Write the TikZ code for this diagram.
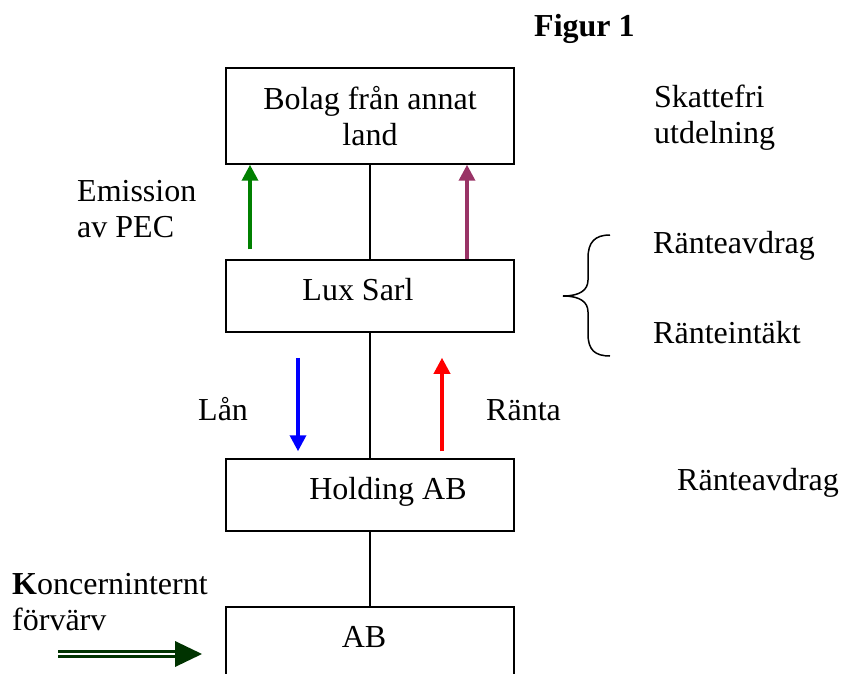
\documentclass[tikz,border=0pt]{standalone}
\usepackage{fontspec}
\setmainfont{Liberation Serif}
\usetikzlibrary{arrows.meta}

\definecolor{pecgreen}{RGB}{0,128,0}
\definecolor{divpurple}{RGB}{153,51,102}
\definecolor{buygreen}{RGB}{0,51,0}

\tikzset{
  firm/.style={draw, line width=1.5pt, minimum width=288pt, minimum height=72pt, inner sep=0pt},
  oneline/.style={text height=22pt, text depth=14pt},
  note/.style={inner sep=0pt},
  flow/.style={line width=3.5pt, -{Triangle[width=16pt,length=16pt]}}
}

\begin{document}
\begin{tikzpicture}[x=1pt,y=-1pt,font=\fontsize{32}{36}\selectfont]
  \useasboundingbox (0,0) rectangle (841,674);
  \clip (0,0) rectangle (841,674);

  \node[firm, align=center, minimum height=96pt] (bolag) at (370,116) {Bolag från annat\\land};
  \node[firm, oneline] (lux) at (370,296) {\hspace*{-24pt}Lux Sarl};
  \node[firm, oneline] (holding) at (370,495) {Holding AB\hspace*{-36pt}};
  \node[firm, oneline] (ab) at (370,643) {\hspace*{-12pt}AB};

  \draw[line width=1.5pt] (bolag.south) -- (lux.north)
    (lux.south) -- (holding.north)
    (holding.south) -- (ab.north);

  \draw[flow, pecgreen] ([xshift=-120pt,yshift=10pt]lux.north) -- ([xshift=-120pt]bolag.south);
  \draw[flow, divpurple] ([xshift=97pt]lux.north) -- ([xshift=97pt]bolag.south);
  \draw[flow, blue] ([xshift=-72pt,yshift=-25pt]lux.south) -- ([xshift=-72pt,yshift=7pt]holding.north);
  \draw[flow, red] ([xshift=72pt,yshift=7pt]holding.north) -- ([xshift=72pt,yshift=-25pt]lux.south);

  \node[note, anchor=base west] (figur) at (534,37) {\bfseries Figur 1};
  \node[note, align=left, anchor=north west] (skattefri) at (654,85) {Skattefri\\utdelning};
  \node[note, align=left, anchor=north west] (emission) at (77,180) {Emission\\av PEC};
  \node[note, anchor=base west] (avdragLux) at (653,253) {Ränteavdrag};
  \node[note, anchor=base west] (intakt) at (653,343) {Ränteintäkt};
  \node[note, anchor=base west] (lan) at (198,420) {Lån};
  \node[note, anchor=base west] (ranta) at (486,420) {Ränta};
  \node[note, anchor=base west] (avdragHolding) at (677,490) {Ränteavdrag};
  \node[note, align=left, anchor=north west] (koncern) at (12,573) {\textbf{K}oncerninternt\\förvärv};

  % brace
  \draw[line width=1.5pt] (610,235) .. controls (595,235) and (588,242) .. (588,258) -- (588,280)
    .. controls (588,290) and (580,296) .. (563,296)
    .. controls (580,296) and (588,302) .. (588,312) -- (588,334)
    .. controls (588,350) and (595,356) .. (610,356);

  % koncerninternt forvarv
  \coordinate (buyTail) at (58,654);
  \coordinate (buyTip) at (202,654);
  \draw[buygreen, line width=3pt, double=white, double distance=2pt] (buyTail) -- ([xshift=-25pt]buyTip);
  \fill[buygreen] (buyTip) -- ++(-27,13) -- ++(0,-26) -- cycle;
\end{tikzpicture}
\end{document}
